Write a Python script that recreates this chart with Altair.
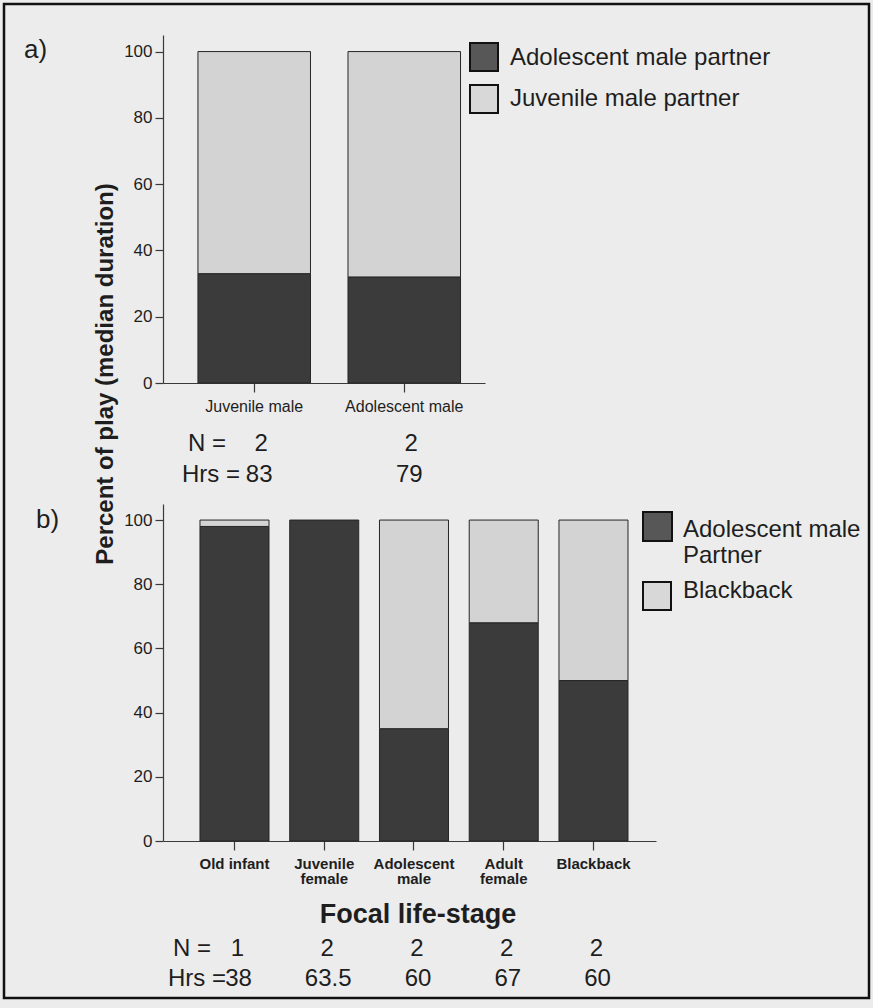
import altair as alt
import pandas as pd

FONT = "Liberation Sans"
INK = "#1e1e1e"
DARK = "#3b3b3b"
LIGHT = "#d3d3d3"
BG = "#ececec"

# ---- panel a: focal juvenile / adolescent males ----
stages_a = ["Juvenile male", "Adolescent male"]
partners_a = ["Adolescent male partner", "Juvenile male partner"]
adol_partner_a = [33, 32]
juv_partner_a = [67, 68]
n_a = [2, 2]
hrs_a = ["83", "79"]

# ---- panel b: all focal life-stages ----
stages_b = ["Old infant", "Juvenile female", "Adolescent male", "Adult female", "Blackback"]
partners_b = ["Adolescent male Partner", "Blackback"]
adol_partner_b = [98, 100, 35, 68, 50]
blackback_b = [2, 0, 65, 32, 50]
n_b = [1, 2, 2, 2, 2]
hrs_b = ["38", "63.5", "60", "67", "60"]

y_ticks = [0, 20, 40, 60, 80, 100]


def long_table(stages, partners, first, second):
    rows = []
    for s, a, b in zip(stages, first, second):
        rows.append({"stage": s, "partner": partners[0], "pct": a, "rank": 0})
        rows.append({"stage": s, "partner": partners[1], "pct": b, "rank": 1})
    df = pd.DataFrame(rows)
    return df[df["pct"] > 0]


df_a = long_table(stages_a, partners_a, adol_partner_a, juv_partner_a)
df_b = long_table(stages_b, partners_b, adol_partner_b, blackback_b)
counts_a = pd.DataFrame({"stage": stages_a, "n": n_a, "hrs": hrs_a})
counts_b = pd.DataFrame({"stage": stages_b, "n": n_b, "hrs": hrs_b})

axis_style = dict(
    grid=False, domainColor="#3a3a3a", tickColor="#3a3a3a", domainWidth=1.2,
    tickWidth=1.2, labelColor=INK, labelFont=FONT, title=None,
)

# panel a scales and axes (absolute pixel ranges on the shared canvas)
xa_scale = alt.Scale(domain=stages_a, range=[163, 485], paddingInner=0.25,
                     paddingOuter=0.198, align=0.588)
ya_scale = alt.Scale(domain=[0, 105], range=[383, 35], nice=False)
xa_axis = alt.Axis(orient="bottom", offset=-625, tickSize=9, labelFontSize=16,
                   labelPadding=6, labelAngle=0, **axis_style)
ya_axis = alt.Axis(orient="left", offset=-163, values=y_ticks, tickSize=8,
                   labelFontSize=17, labelPadding=3, **axis_style)

# panel b scales and axes
xb_scale = alt.Scale(domain=stages_b, range=[163, 656], paddingInner=0.231,
                     paddingOuter=0.362, align=0.569)
yb_scale = alt.Scale(domain=[0, 105], range=[841, 504], nice=False)
xb_axis = alt.Axis(orient="bottom", offset=-167, tickSize=9, labelFontSize=15,
                   labelFontWeight="bold", labelPadding=6, labelAngle=0,
                   labelLineHeight=15,
                   labelExpr="indexof(datum.label, ' ') > 0 && datum.label != 'Old infant' ? split(datum.label, ' ') : datum.label",
                   **axis_style)
yb_axis = alt.Axis(orient="left", offset=-163, values=y_ticks, tickSize=8,
                   labelFontSize=17, labelPadding=3, **axis_style)

bar_style = dict(stroke="#262626", strokeWidth=1)

bars_a = alt.Chart(df_a).mark_bar(**bar_style).encode(
    x=alt.X("stage:N", sort=stages_a, scale=xa_scale, axis=xa_axis),
    y=alt.Y("pct:Q", stack="zero", scale=ya_scale, axis=ya_axis),
    color=alt.Color("partner:N", scale=alt.Scale(domain=partners_a, range=[DARK, LIGHT]), legend=None),
    order=alt.Order("rank:Q"),
)
n_text_a = alt.Chart(counts_a).mark_text(fontSize=24, font=FONT, color=INK, dx=7,
                                         baseline="alphabetic").encode(
    x=alt.X("stage:N", sort=stages_a, scale=xa_scale, axis=xa_axis),
    y=alt.value(451), text="n:N")
h_text_a = alt.Chart(counts_a).mark_text(fontSize=24, font=FONT, color=INK, dx=5,
                                         baseline="alphabetic").encode(
    x=alt.X("stage:N", sort=stages_a, scale=xa_scale, axis=xa_axis),
    y=alt.value(482), text="hrs:N")
panel_a = alt.layer(bars_a, n_text_a, h_text_a)

bars_b = alt.Chart(df_b).mark_bar(**bar_style).encode(
    x=alt.X("stage:N", sort=stages_b, scale=xb_scale, axis=xb_axis),
    y=alt.Y("pct:Q", stack="zero", scale=yb_scale, axis=yb_axis),
    color=alt.Color("partner:N", scale=alt.Scale(domain=partners_b, range=[DARK, LIGHT]), legend=None),
    order=alt.Order("rank:Q"),
)
n_text_b = alt.Chart(counts_b).mark_text(fontSize=24, font=FONT, color=INK, dx=3,
                                         baseline="alphabetic").encode(
    x=alt.X("stage:N", sort=stages_b, scale=xb_scale, axis=xb_axis),
    y=alt.value(956), text="n:N")
h_text_b = alt.Chart(counts_b).mark_text(fontSize=24, font=FONT, color=INK, dx=4,
                                         baseline="alphabetic").encode(
    x=alt.X("stage:N", sort=stages_b, scale=xb_scale, axis=xb_axis),
    y=alt.value(986), text="hrs:N")
panel_b = alt.layer(bars_b, n_text_b, h_text_b)


def note(text, x, y, size, weight="normal", align="left", angle=0):
    return alt.Chart(pd.DataFrame({"t": [text]})).mark_text(
        align=align, baseline="alphabetic", fontSize=size, fontWeight=weight,
        angle=angle, font=FONT, color=INK,
    ).encode(x=alt.value(x), y=alt.value(y), text="t:N")


def swatch(x0, y0, side, fill):
    return alt.Chart(pd.DataFrame({"k": [0]})).mark_rect(
        fill=fill, stroke="#111111", strokeWidth=2,
    ).encode(x=alt.value(x0), x2=alt.value(x0 + side), y=alt.value(y0), y2=alt.value(y0 + side))


frame = alt.Chart(pd.DataFrame({"k": [0]})).mark_rect(
    fillOpacity=0, stroke="#111111", strokeWidth=2.5,
).encode(x=alt.value(4), x2=alt.value(869), y=alt.value(4), y2=alt.value(998))

notes = [
    note("a)", 24, 58, 26),
    note("b)", 36, 528, 26),
    note("Percent of play (median duration)", 113, 374, 24, "bold", "center", 270),
    note("Focal life-stage", 418, 923, 27, "bold", "center"),
    note("N =", 188, 451, 24),
    note("Hrs =", 240, 482, 24, align="right"),
    note("N =", 173, 956, 24),
    note("Hrs =", 226, 986, 24, align="right"),
    # legend a
    swatch(470, 43, 28, "#575757"),
    swatch(470, 85, 28, "#d8d8d8"),
    note(partners_a[0], 510, 65, 24),
    note(partners_a[1], 510, 106, 24),
    # legend b
    swatch(643, 512, 29, "#575757"),
    swatch(643, 582, 28, "#d8d8d8"),
    note("Adolescent male", 683, 537, 24),
    note("Partner", 683, 563, 24),
    note("Blackback", 683, 598, 24),
]

chart = alt.layer(panel_a, panel_b, frame, *notes).resolve_scale(
    x="independent", y="independent", color="independent"
).properties(
    width=873, height=1008, padding=0, background=BG,
    autosize=alt.AutoSizeParams(type="none"),
).configure_view(stroke=None)

chart.save("out.html", embed_options={"renderer": "svg", "actions": False})
